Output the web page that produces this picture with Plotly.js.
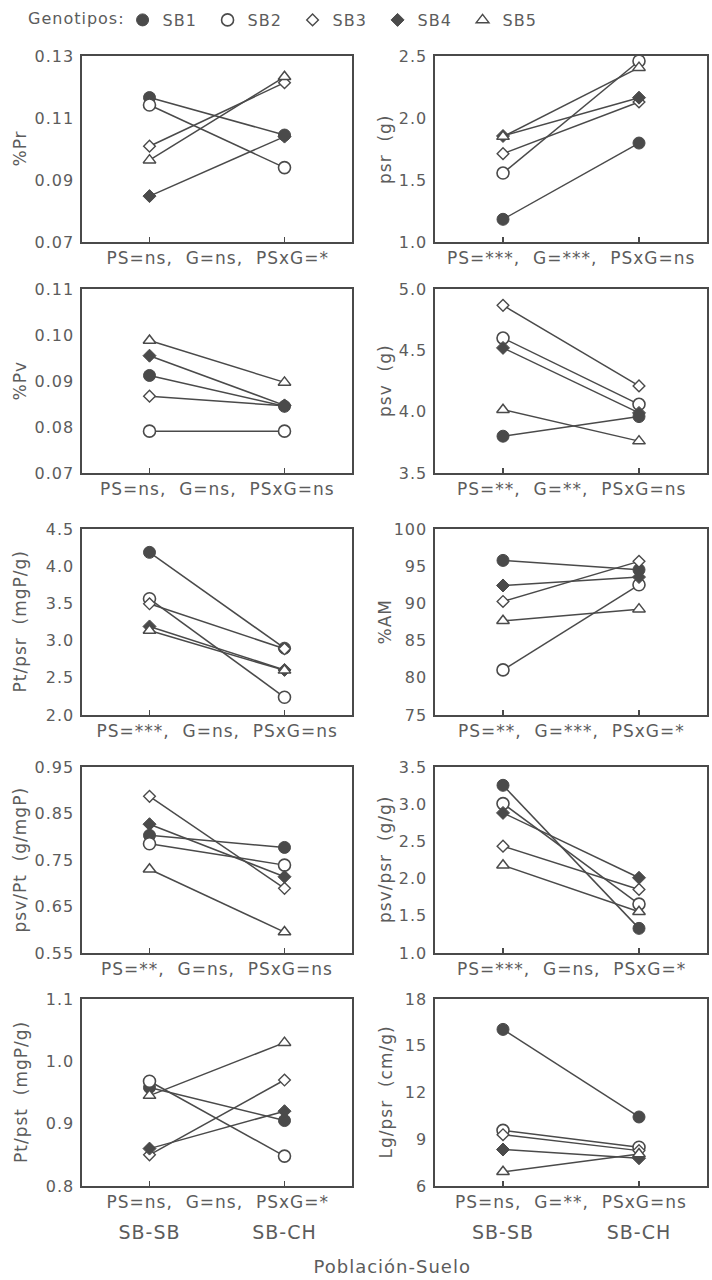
<!DOCTYPE html>
<html>
<head>
<meta charset="utf-8">
<script src="https://cdn.plot.ly/plotly-3.0.1.min.js"></script>
<style>
  html, body { margin: 0; padding: 0; background: #fff; }
  #chart { width: 712px; height: 1280px; }
  #chart text { letter-spacing: 1px; }
</style>
</head>
<body>
<div id="chart"></div>
<script>
// ---- data ----
const categories = ['SB-SB', 'SB-CH'];
const genotypes = ['SB1', 'SB2', 'SB3', 'SB4', 'SB5'];

// each array: one [SB-SB, SB-CH] pair per genotype SB1..SB5
const pctPr  = [[0.1166, 0.1045], [0.1142, 0.0940], [0.1009, 0.1214], [0.0848, 0.1040], [0.0964, 0.1233]];
const psr    = [[1.183, 1.798], [1.556, 2.460], [1.712, 2.129], [1.855, 2.164], [1.850, 2.406]];
const pctPv  = [[0.0912, 0.0845], [0.0791, 0.0791], [0.0867, 0.0846], [0.0955, 0.0847], [0.0988, 0.0897]];
const psv    = [[3.80, 3.96], [4.60, 4.06], [4.867, 4.21], [4.52, 3.99], [4.016, 3.76]];
const ptPsr  = [[4.186, 2.898], [3.562, 2.238], [3.495, 2.890], [3.190, 2.606], [3.136, 2.600]];
const pctAM  = [[95.78, 94.52], [81.06, 92.50], [90.26, 95.65], [92.41, 93.54], [87.66, 89.23]];
const psvPt  = [[0.803, 0.777], [0.785, 0.739], [0.887, 0.689], [0.827, 0.714], [0.730, 0.595]];
const psvPsr = [[3.254, 1.331], [3.008, 1.657], [2.436, 1.854], [2.883, 2.011], [2.180, 1.555]];
const ptPst  = [[0.958, 0.905], [0.968, 0.848], [0.850, 0.970], [0.860, 0.920], [0.945, 1.030]];
const lgPsr  = [[16.05, 10.43], [9.57, 8.49], [9.29, 8.27], [8.34, 7.78], [6.91, 8.05]];

const panelData = [pctPr, psr, pctPv, psv, ptPsr, pctAM, psvPt, psvPsr, ptPst, lgPsr];
const yTitles = ['%Pr', 'psr  (g)', '%Pv', 'psv  (g)', 'Pt/psr  (mgP/g)', '%AM',
                 'psv/Pt  (g/mgP)', 'psv/psr  (g/g)', 'Pt/pst  (mgP/g)', 'Lg/psr  (cm/g)'];
const anovaTexts = ['PS=ns,  G=ns,  PSxG=*', 'PS=***,  G=***,  PSxG=ns',
                    'PS=ns,  G=ns,  PSxG=ns', 'PS=**,  G=**,  PSxG=ns',
                    'PS=***,  G=ns,  PSxG=ns', 'PS=**,  G=***,  PSxG=*',
                    'PS=**,  G=ns,  PSxG=ns', 'PS=***,  G=ns,  PSxG=*',
                    'PS=ns,  G=ns,  PSxG=*', 'PS=ns,  G=**,  PSxG=ns'];
const xLabel = 'Población-Suelo';

// ---- axis settings ----
const yRanges = [[0.07, 0.13], [1.0, 2.5], [0.07, 0.11], [3.5, 5.0], [2.0, 4.5],
                 [75, 100], [0.55, 0.95], [1.0, 3.5], [0.8, 1.1], [6, 18]];
const yDticks = [0.02, 0.5, 0.01, 0.5, 0.5, 5, 0.1, 0.5, 0.1, 3];
const yFormats = ['.2f', '.1f', '.2f', '.1f', '.1f', 'd', '.2f', '.1f', '.1f', 'd'];

// ---- layout geometry (pixels) ----
const W = 712, H = 1280;
const rowsPx = [[56, 242], [289, 473], [529, 715], [767, 953], [999, 1186]];
const colsPx = [[82, 352], [435, 707]];
const ink = '#4a4a4a';
const textCol = '#5c5c5c';
const fontFam = '"DejaVu Sans", "Liberation Sans", sans-serif';

const markerStyles = [
  {symbol: 'circle', size: 12, color: ink, line: {color: ink, width: 1}},
  {symbol: 'circle', size: 12, color: '#ffffff', line: {color: ink, width: 1.6}},
  {symbol: 'diamond', size: 9, color: '#ffffff', line: {color: ink, width: 1.4}},
  {symbol: 'diamond', size: 10, color: ink, line: {color: ink, width: 1}},
  {symbol: 'triangle-up', size: 11, color: '#ffffff', line: {color: ink, width: 1.5}}
];

const py = p => 1 - p / H;
const px = p => p / W;

const traces = [];
const layout = {
  width: W, height: H,
  margin: {l: 0, r: 0, t: 0, b: 0},
  paper_bgcolor: '#ffffff', plot_bgcolor: '#ffffff',
  font: {family: fontFam, color: textCol, size: 16},
  showlegend: true,
  legend: {
    orientation: 'h', x: px(26), y: py(3), xanchor: 'left', yanchor: 'top',
    title: {text: 'Genotipos:', side: 'left', font: {size: 16, color: textCol}},
    font: {size: 16, color: textCol},
    entrywidth: 40, entrywidthmode: 'pixels', itemwidth: 30,
    bgcolor: 'rgba(0,0,0,0)', borderwidth: 0
  },
  annotations: []
};

panelData.forEach((data, p) => {
  const row = Math.floor(p / 2), col = p % 2;
  const n = p === 0 ? '' : String(p + 1);
  const [top, bot] = rowsPx[row];
  const [lft, rgt] = colsPx[col];
  const isBottom = row === rowsPx.length - 1;

  layout['xaxis' + n] = {
    domain: [px(lft), px(rgt)], anchor: 'y' + n,
    type: 'category', categoryarray: categories, range: [-0.5, 1.5],
    showline: true, mirror: true, linecolor: ink, linewidth: 1.6,
    showgrid: false, zeroline: false,
    ticks: 'inside', ticklen: 5, tickwidth: 1.2, tickcolor: ink,
    showticklabels: isBottom, ticklabelstandoff: 29,
    tickfont: {size: 19, color: textCol}, fixedrange: true
  };
  layout['yaxis' + n] = {
    domain: [py(bot), py(top)], anchor: 'x' + n,
    range: yRanges[p], tick0: yRanges[p][0], dtick: yDticks[p], tickformat: yFormats[p],
    showline: true, mirror: true, linecolor: ink, linewidth: 1.6,
    showgrid: false, zeroline: false, ticks: '',
    ticklabelstandoff: 3,
    tickfont: {size: 16, color: textCol}, fixedrange: true
  };

  // ANOVA line under each panel
  layout.annotations.push({
    text: anovaTexts[p], xref: 'paper', yref: 'paper',
    x: px((lft + rgt) / 2), y: py(bot + 16), xanchor: 'center', yanchor: 'middle',
    showarrow: false, font: {size: 17, color: textCol}
  });
  // y title
  layout.annotations.push({
    text: yTitles[p], xref: 'paper', yref: 'paper',
    x: px(col === 0 ? 20 : 385), y: py((top + bot) / 2), xanchor: 'center', yanchor: 'middle',
    textangle: -90, showarrow: false, font: {size: 17, color: textCol}
  });

  data.forEach((vals, g) => {
    traces.push({
      type: 'scatter', mode: 'lines+markers',
      x: categories, y: vals, name: genotypes[g],
      xaxis: 'x' + n, yaxis: 'y' + n,
      line: {color: ink, width: 1.5},
      marker: markerStyles[g],
      showlegend: false, hoverinfo: 'skip', cliponaxis: false
    });
  });
});

// legend entries (marker only)
genotypes.forEach((gName, g) => {
  traces.push({
    type: 'scatter', mode: 'markers', x: [null], y: [null],
    name: gName, marker: markerStyles[g], showlegend: true,
    xaxis: 'x', yaxis: 'y', hoverinfo: 'skip'
  });
});

// global x label
layout.annotations.push({
  text: xLabel, xref: 'paper', yref: 'paper',
  x: px(392), y: py(1266), xanchor: 'center', yanchor: 'middle',
  showarrow: false, font: {size: 18, color: textCol}
});

Plotly.newPlot('chart', traces, layout, {staticPlot: true, displayModeBar: false});
</script>
</body>
</html>
